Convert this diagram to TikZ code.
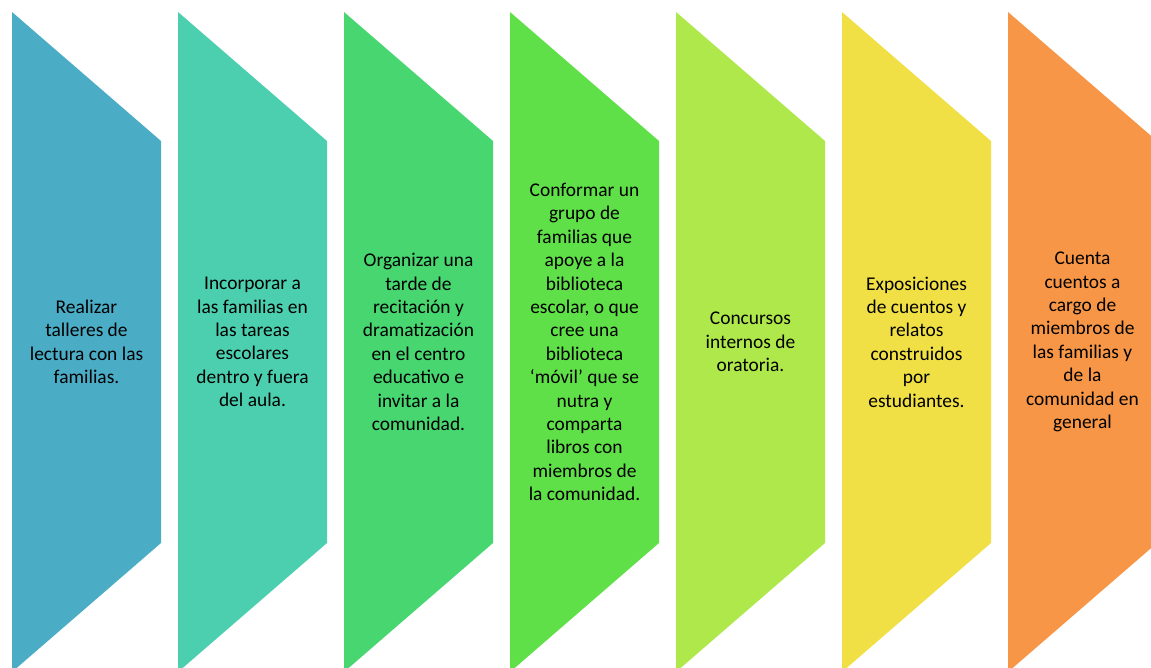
\documentclass[tikz,border=0pt]{standalone}
\usepackage{fontspec}
\setmainfont{Carlito}
\usepackage{tikz}

\definecolor{tallerblue}{HTML}{4BACC6}
\definecolor{familiateal}{HTML}{4BCFAF}
\definecolor{tardegreen}{HTML}{47D670}
\definecolor{bibliogreen}{HTML}{5FE048}
\definecolor{oratorialime}{HTML}{AEE84A}
\definecolor{cuentoyellow}{HTML}{F0E046}
\definecolor{miembrorange}{HTML}{F79646}

\tikzset{
  paso/.style={align=center, text=black, font=\fontsize{19.5}{23.5}\selectfont},
}

\begin{document}
\begin{tikzpicture}[x=1bp, y=-1bp]
\useasboundingbox (0,0) rectangle (1151,668);

\fill[tallerblue] (12,12) -- ++(149,129) -- ++(0,402) -- ++(-149,129) -- cycle;
\fill[familiateal] (178,12) -- ++(149,129) -- ++(0,402) -- ++(-149,129) -- cycle;
\fill[tardegreen] (344,12) -- ++(149,129) -- ++(0,402) -- ++(-149,129) -- cycle;
\fill[bibliogreen] (510,12) -- ++(149,129) -- ++(0,402) -- ++(-149,129) -- cycle;
\fill[oratorialime] (676,12) -- ++(149,129) -- ++(0,402) -- ++(-149,129) -- cycle;
\fill[cuentoyellow] (842,12) -- ++(149,129) -- ++(0,402) -- ++(-149,129) -- cycle;
\fill[miembrorange] (1008,12) -- ++(149,129) -- ++(0,402) -- ++(-149,129) -- cycle;

\node[paso] (taller) at (86.5,342) {Realizar\\talleres de\\lectura con las\\familias.};
\node[paso] (tareas) at (252.5,342) {Incorporar a\\las familias en\\las tareas\\escolares\\dentro y fuera\\del aula.};
\node[paso] (tarde) at (418.5,342) {Organizar una\\tarde de\\recitación y\\dramatización\\en el centro\\educativo e\\invitar a la\\comunidad.};
\node[paso] (biblio) at (584.5,342) {Conformar un\\grupo de\\familias que\\apoye a la\\biblioteca\\escolar, o que\\cree una\\biblioteca\\‘móvil’ que se\\nutra y\\comparta\\libros con\\miembros de\\la comunidad.};
\node[paso] (oratoria) at (750.5,342) {Concursos\\internos de\\oratoria.};
\node[paso] (expos) at (916.5,342) {Exposiciones\\de cuentos y\\relatos\\construidos\\por\\estudiantes.};
\node[paso] (cuenta) at (1082.5,342) {Cuenta\\cuentos a\\cargo de\\miembros de\\las familias y\\de la\\comunidad en\\general};
\end{tikzpicture}
\end{document}
